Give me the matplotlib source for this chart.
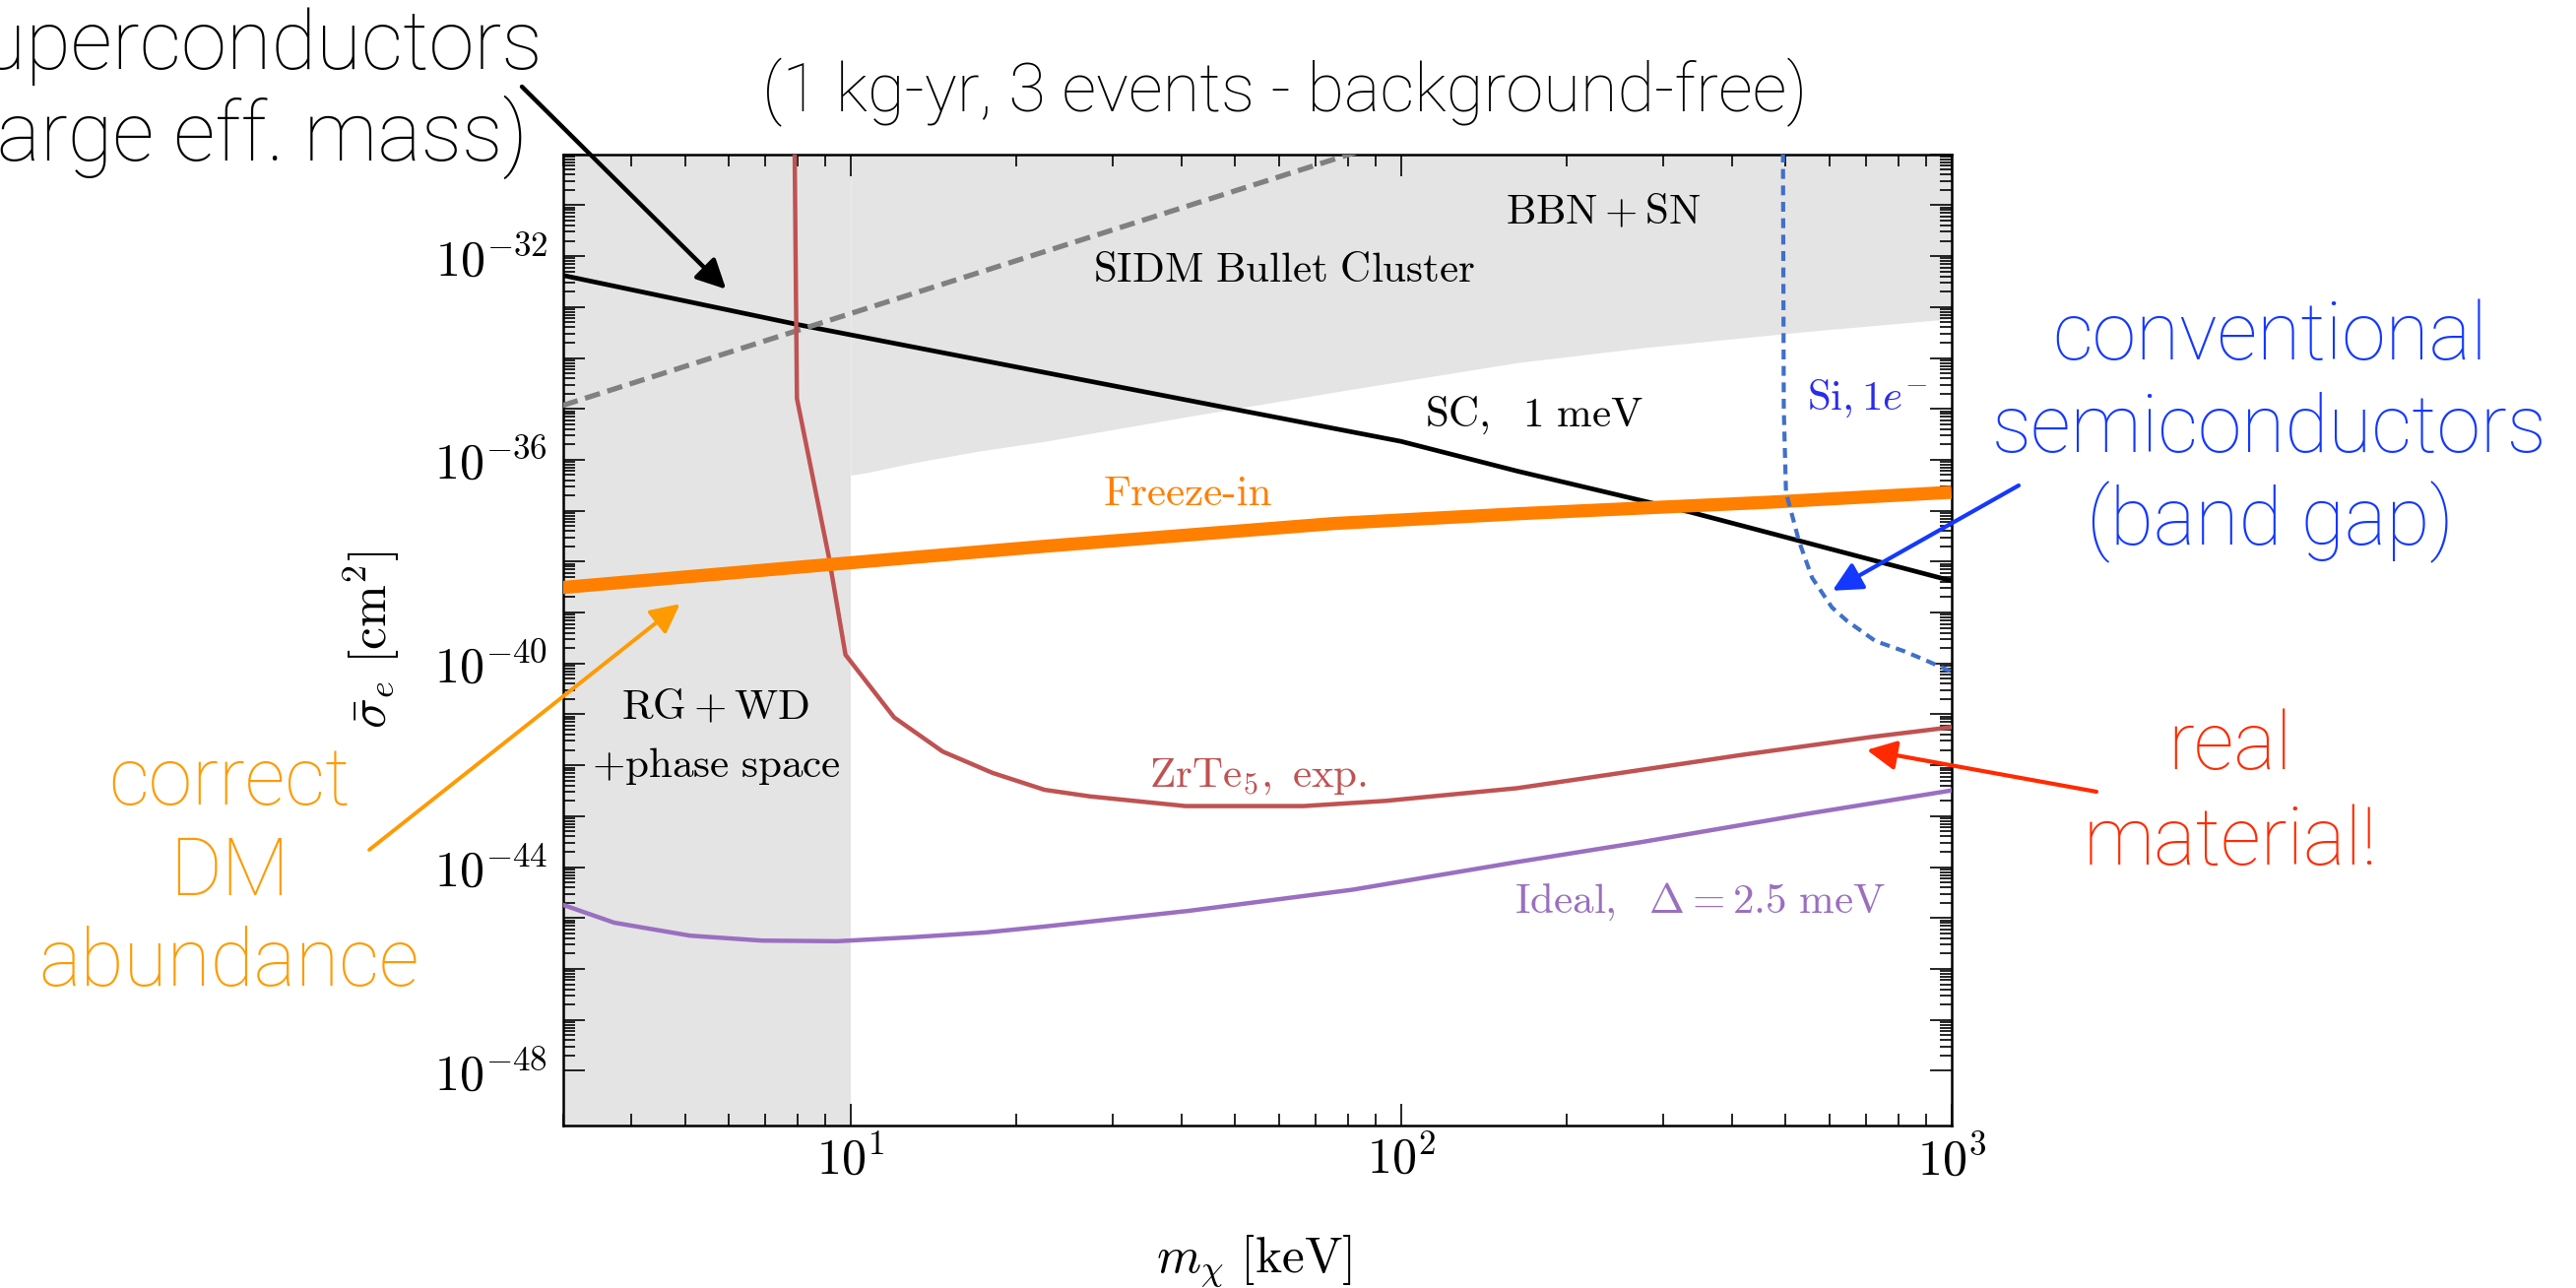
import numpy as np
import matplotlib
matplotlib.use("Agg")
import matplotlib.pyplot as plt
from matplotlib.ticker import FixedLocator, FuncFormatter

plt.rcParams['mathtext.fontset'] = 'cm'

W, H = 2616, 1308

# dark matter mass [keV] and reach / constraints on sigma_e [cm^2]
sc_mass = [3.0, 8.04, 22.5, 47.2, 100.0, 162.6, 336.5, 1000.0]
sc_sigma = [4.2e-33, 4.5e-34, 5.2e-35, 1.1e-35, 2.3e-36, 6.0e-37, 9.3e-38, 4.2e-39]

bullet_mass = [3.0, 100.0]
bullet_sigma = [1.17e-35, 2.1e-30]

zrte5_mass = [7.90, 7.99, 9.14, 9.79, 12.0, 14.7, 18.1, 22.5, 27.2, 40.6, 66.5,
              93.8, 162.6, 238.0, 413.0, 716.0, 1000.0]
zrte5_sigma = [1e-29, 1.6e-35, 1.17e-38, 1.48e-40, 8.7e-42, 1.86e-42, 7.1e-43,
               3.3e-43, 2.45e-43, 1.58e-43, 1.58e-43, 2.0e-43, 3.55e-43, 6.5e-43,
               1.58e-42, 3.6e-42, 5.6e-42]

ideal_mass = [3.0, 3.72, 5.11, 6.90, 9.46, 12.97, 17.56, 22.5, 41.1, 81.7, 162.6,
              273.5, 543.0, 1000.0]
ideal_sigma = [1.82e-45, 8.1e-46, 4.5e-46, 3.6e-46, 3.5e-46, 4.2e-46, 5.2e-46,
               6.8e-46, 1.38e-45, 3.6e-45, 1.26e-44, 3.1e-44, 1.1e-43, 3.2e-43]

freezein_mass = [3.0, 9.08, 22.5, 75.5, 162.6, 474.0, 1000.0]
freezein_sigma = [3.1e-39, 8.7e-39, 2.0e-38, 5.6e-38, 8.7e-38, 1.48e-37, 2.3e-37]

si_mass = [494.0, 496.0, 500.6, 529.0, 558.5, 606.7, 645.7, 727.8, 820.4, 903.6, 1000.0]
si_sigma = [1e-29, 1e-35, 2.3e-37, 2.45e-38, 4.8e-39, 1.26e-39, 6.9e-40, 2.75e-40,
            1.74e-40, 1.12e-40, 6.9e-41]

bbn_mass = [10.0, 10.7, 12.97, 17.08, 22.5, 41.1, 81.7, 162.6, 273.5, 543.0, 1000.0]
bbn_sigma = [5.0e-37, 5.6e-37, 8.7e-37, 1.48e-36, 2.3e-36, 7.1e-36, 2.45e-35,
             8.1e-35, 1.58e-34, 3.3e-34, 5.9e-34]

rg_wd_mass = [3.0, 10.0]

xmin, xmax = 3.0, 1000.0
ymin, ymax = 10**-49.07, 1e-30

fig = plt.figure(figsize=(W / 100, H / 100), dpi=100)
ax = fig.add_axes([571.5 / W, 1 - 1142.7 / H, 1410.2 / W, 986.0 / H])

gray = '#e4e4e4'
ax.fill_between(rg_wd_mass, ymin, ymax, color=gray, lw=0, zorder=0)
ax.fill_between(bbn_mass, bbn_sigma, ymax, color=gray, lw=0, zorder=0)

ax.plot(sc_mass, sc_sigma, color='black', lw=3.4, zorder=3)
ax.plot(bullet_mass, bullet_sigma, color='#808080', lw=3.8,
        linestyle=(0, (3.0, 1.5)), zorder=3)
ax.plot(zrte5_mass, zrte5_sigma, color='#c05252', lw=3.2, zorder=4)
ax.plot(ideal_mass, ideal_sigma, color='#9a6fc0', lw=3.2, zorder=4)
ax.plot(freezein_mass, freezein_sigma, color='#ff7f00', lw=9.6,
        solid_capstyle='butt', zorder=5)
ax.plot(si_mass, si_sigma, color='#4070c8', lw=3.0,
        linestyle=(0, (2.4, 1.6)), zorder=6)

ax.set_xscale('log')
ax.set_yscale('log')
ax.set_xlim(xmin, xmax)
ax.set_ylim(ymin, ymax)

# ticks: every decade on y, labels every fourth decade
ax.xaxis.set_major_locator(FixedLocator([10.0, 100.0, 1000.0]))
ax.xaxis.set_minor_locator(FixedLocator(
    [k * 10.0**m for m in (0, 1, 2) for k in range(2, 10) if k * 10.0**m >= 3]))
ax.xaxis.set_major_formatter(
    FuncFormatter(lambda v, p: rf'$10^{{{int(round(np.log10(v)))}}}$'))

def ylab(v, p):
    n = int(round(np.log10(v)))
    return rf'$10^{{{n}}}$' if n % 4 == 0 else ''

ax.yaxis.set_major_locator(FixedLocator([10.0**n for n in range(-48, -29)]))
ax.yaxis.set_minor_locator(FixedLocator(
    [k * 10.0**n for n in range(-48, -30) for k in range(2, 10)]))
ax.yaxis.set_major_formatter(FuncFormatter(ylab))

ax.tick_params(which='both', direction='in', top=True, right=True, width=1.2)
ax.tick_params(which='major', length=15.6, labelsize=36)
ax.tick_params(which='minor', length=8.4)
ax.tick_params(axis='y', pad=11)
ax.tick_params(axis='x', pad=8)
for s in ax.spines.values():
    s.set_linewidth(1.8)

ax.set_xlabel(r'$m_\chi\ [\mathrm{keV}]$', fontsize=37)
ax.xaxis.set_label_coords(0.498, -0.111)
ax.set_ylabel(r'$\bar{\sigma}_e\ [\mathrm{cm}^2]$', fontsize=37)
ax.yaxis.set_label_coords(-0.116, 0.5)

# region and curve labels
lab = dict(fontsize=31, ha='center', va='baseline', zorder=7)
ax.text(61.4, 3.1e-33, r'$\mathrm{SIDM\ Bullet\ Cluster}$', color='black', **lab)
ax.text(233, 4.4e-32, r'$\mathrm{BBN}+\mathrm{SN}$', color='black', **lab)
ax.text(174.8, 4.5e-36, r'$\mathrm{SC},\ \ 1\ \mathrm{meV}$', color='black', **lab)
ax.text(702, 1.0e-35, r'$\mathrm{Si},1e^{-}$', color='#2b2bea', **lab)
ax.text(41, 1.3e-37, 'Freeze-in', family='cmr10', color='#ff7f00', **lab)
ax.text(5.68, 8.1e-42, r'$\mathrm{RG}+\mathrm{WD}$', color='black', **lab)
ax.text(5.71, 6.0e-43, r'$+\mathrm{phase\ space}$', color='black', **lab)
ax.text(54.9, 3.9e-43, r'$\mathrm{ZrTe}_5,\ \mathrm{exp.}$', color='#c05252', **lab)
ax.text(350, 1.26e-45, r'$\mathrm{Ideal},\ \ \Delta=2.5\ \mathrm{meV}$',
        color='#9a6fc0', **lab)

# slide annotations
sans = dict(family=['Roboto', 'DejaVu Sans'], fontweight='light')
fig.text(1305 / W, 1 - 94 / H, '(1 kg-yr, 3 events - background-free)',
         fontsize=49.5, ha='center', va='center', **sans)


def block(lines, cx, baselines, color, size=58):
    for line, yb in zip(lines, baselines):
        fig.text(cx / W, 1 - yb / H, line, fontsize=size, color=color,
                 ha='center', va='baseline', **sans)


block(['superconductors', '(large eff. mass)'], 245, [70, 163], 'black', size=60)
block(['conventional', 'semiconductors', '(band gap)'], 2305, [365, 459, 553], '#1438ff')
block(['real', 'material!'], 2265, [781, 878], '#ff2a00')
block(['correct', 'DM', 'abundance'], 233, [817, 909, 1001], '#ff9a00')


def arrow(tip, start_px, color, lw):
    ax.annotate('', xy=tip, xycoords='data',
                xytext=(start_px[0] / W, 1 - start_px[1] / H),
                textcoords='figure fraction', annotation_clip=False,
                arrowprops=dict(arrowstyle='-|>,head_length=0.4,head_width=0.2',
                                mutation_scale=45, color=color, lw=lw,
                                shrinkA=0, shrinkB=0), zorder=8)


arrow((5.94, 2.24e-33), (530, 88), 'black', 3.2)
arrow((608, 2.69e-39), (2050, 493), '#1438ff', 3.0)
arrow((702, 2.0e-42), (2129, 804), '#ff2a00', 3.0)
arrow((4.90, 1.48e-39), (375, 863), '#ff9a00', 2.8)

fig.savefig('out.png', dpi=100)
